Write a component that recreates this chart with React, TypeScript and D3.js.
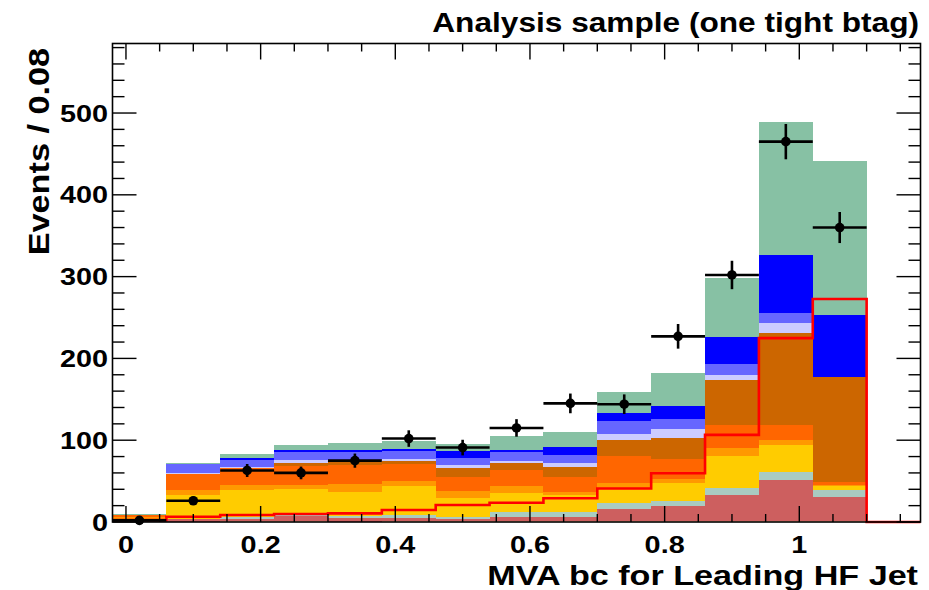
import React from 'react';
import * as d3 from 'd3';

// ---- data ----
const binCenters = [0.02, 0.10, 0.18, 0.26, 0.34, 0.42, 0.50, 0.58, 0.66, 0.74, 0.82, 0.90, 0.98, 1.06, 1.14];
const binWidth = 0.08;

const peach      = [0.3, 0.5, 0.7, 1, 0.5, 1, 1, 1, 0.7, 1, 1, 1, 1, 1, 0];
const indianred  = [1.5, 3, 3.3, 6, 4, 3.5, 2.3, 5.5, 5, 15, 19, 32, 50, 30, 0];
const tealgrey   = [0.3, 0.5, 2, 3, 2.5, 4.5, 3.2, 6, 7, 7, 6, 8.2, 10.5, 8, 0];
const gold       = [1.5, 29, 33, 30, 30, 35, 22.5, 23.5, 20.4, 18.3, 22, 39.6, 32.6, 5, 0];
const orange     = [2, 6, 6, 5, 9.5, 6, 9.3, 7.5, 4.1, 6.2, 4, 9.4, 6.2, 1.5, 0];
const orangered  = [3, 19.4, 21, 23.5, 23.5, 20.5, 17.1, 20.5, 18.3, 32.6, 24.5, 28.5, 18.3, 3.5, 0];
const brown      = [0.5, 0.5, 0.5, 3.5, 3, 4, 10.3, 8, 12.3, 20.4, 26.6, 54.3, 112.3, 127.7, 0];
const lavender   = [0, 1, 1.2, 4, 2.5, 2.5, 4.1, 2, 4.1, 7.3, 10, 7, 13, 0.3, 0];
const mediumblue = [0, 10.7, 8.3, 10, 10, 9.5, 8.2, 11, 10.2, 15.1, 12.3, 13.4, 11.4, 0.3, 0];
const blue       = [0, 0, 2, 2, 3, 2.5, 9.3, 3, 9.4, 10.2, 16.3, 32.6, 71.4, 76, 0];
const green      = [0.3, 1, 5, 6, 8, 9.5, 7.7, 17, 19, 25.7, 40, 72.3, 161.9, 187.6, 0];

const signal = [2.4, 6.5, 8.6, 9.8, 10.6, 14.7, 20.8, 23.6, 29, 41, 59.6, 106.5, 224.8, 272.6, 0];
const dataCounts = [2, 26, 63, 60, 75, 102, 91, 115, 145, 144, 227, 302, 465, 360, 0];

const layerKeys = ['peach', 'indianred', 'tealgrey', 'gold', 'orange', 'orangered', 'brown', 'lavender', 'mediumblue', 'blue', 'green'];
const layerValues: Record<string, number[]> = { peach, indianred, tealgrey, gold, orange, orangered, brown, lavender, mediumblue, blue, green };
const layerColors: Record<string, string> = {
  peach: '#f6c79a', indianred: '#cd5f5f', tealgrey: '#a9cbc1', gold: '#ffcc00', orange: '#ff9900',
  orangered: '#ff6600', brown: '#cc6600', lavender: '#ccccff', mediumblue: '#6666ff', blue: '#0000ff', green: '#87c1a4',
};

const xTickLabels = [0, 0.2, 0.4, 0.6, 0.8, 1];
const yTickLabels = [0, 100, 200, 300, 400, 500];

const titleText = 'Analysis sample (one tight btag)';
const xTitle = 'MVA bc for Leading HF Jet';
const yTitle = 'Events / 0.08';

// ---- layout ----
const W = 929, H = 590;
const L = 112.5, R = 920.5, T = 43.5, B = 522;
const FONT = "'Liberation Sans', Arial, Helvetica, sans-serif";

export default function App() {
  const x = d3.scaleLinear().domain([-0.02, 1.18]).range([L, R]);
  const y = d3.scaleLinear().domain([0, 585]).range([B, T]);

  const rows = binCenters.map((c, i) => {
    const r: any = { c };
    layerKeys.forEach(k => { r[k] = layerValues[k][i]; });
    return r;
  });
  const stacked = d3.stack<any>().keys(layerKeys)(rows);

  const edges = binCenters.map(c => c - binWidth / 2);
  const sigPts: [number, number][] = edges.map((e, i) => [e, signal[i]]);
  sigPts.push([binCenters[binCenters.length - 1] + binWidth / 2, signal[signal.length - 1]]);
  const sigLine = d3.line<[number, number]>().x(d => x(d[0])).y(d => y(d[1])).curve(d3.curveStepAfter);

  const yMinor = d3.range(0, 585, 20);
  const xMinor = d3.range(0, 1.18, 0.05).map(v => Math.round(v * 100) / 100);
  const isMajorX = (v: number) => Math.abs(v / 0.2 - Math.round(v / 0.2)) < 1e-6;

  const yMajLen = 24, yMinLen = 12, xMajLen = 16, xMinLen = 8;

  return (
    <svg width={W} height={H} style={{ display: 'block', position: 'absolute', left: 0, top: 0 }}>
      <rect x={0} y={0} width={W} height={H} fill="#fff" />
      {stacked.map(layer => (
        <g key={layer.key} fill={layerColors[layer.key]}>
          {layer.map((d, i) => {
            const h = y(d[0]) - y(d[1]);
            if (h <= 0) return null;
            return (
              <rect key={i} x={x(binCenters[i] - binWidth / 2)} y={y(d[1])}
                width={x(binCenters[i] + binWidth / 2) - x(binCenters[i] - binWidth / 2)} height={h}
                shapeRendering="crispEdges" />
            );
          })}
        </g>
      ))}
      <path d={sigLine(sigPts) || ''} fill="none" stroke="#ff0000" strokeWidth={2.6} />
      {dataCounts.map((n, i) => {
        if (n <= 0) return null;
        const e = Math.sqrt(n);
        const cx = x(binCenters[i]);
        return (
          <g key={i} stroke="#000" strokeWidth={2.6}>
            <line x1={x(binCenters[i] - binWidth / 2)} x2={x(binCenters[i] + binWidth / 2)} y1={y(n)} y2={y(n)} />
            <line x1={cx} x2={cx} y1={y(Math.max(0, n - e))} y2={y(n + e)} />
            <circle cx={cx} cy={y(n)} r={4.8} fill="#000" stroke="none" />
          </g>
        );
      })}
      {/* frame */}
      <rect x={L} y={T} width={R - L} height={B - T} fill="none" stroke="#000" strokeWidth={1.6} />
      {/* ticks */}
      <g stroke="#000" strokeWidth={1.4}>
        {yMinor.map(v => {
          const len = v % 100 === 0 ? yMajLen : yMinLen;
          return (
            <g key={v}>
              <line x1={L} x2={L + len} y1={y(v)} y2={y(v)} />
              <line x1={R} x2={R - len} y1={y(v)} y2={y(v)} />
            </g>
          );
        })}
        {xMinor.map(v => {
          const len = isMajorX(v) ? xMajLen : xMinLen;
          return (
            <g key={v}>
              <line x1={x(v)} x2={x(v)} y1={B} y2={B - len} />
              <line x1={x(v)} x2={x(v)} y1={T} y2={T + len} />
            </g>
          );
        })}
      </g>
      <g fontFamily={FONT} fontWeight="bold" fill="#000">
        {yTickLabels.map(v => (
          <text key={v} transform={`translate(108,${y(v) + 8.6}) scale(1.2,1)`} textAnchor="end" fontSize={24}>{v}</text>
        ))}
        {xTickLabels.map(v => (
          <text key={v} transform={`translate(${x(v)},553) scale(1.2,1)`} textAnchor="middle" fontSize={24}>{String(v)}</text>
        ))}
        <text transform="translate(919,32) scale(1.13,1)" textAnchor="end" fontSize={28}>{titleText}</text>
        <text transform="translate(918,585) scale(1.22,1)" textAnchor="end" fontSize={28}>{xTitle}</text>
        <text transform="translate(49,48) rotate(-90) scale(1.18,1)" textAnchor="end" fontSize={29}>{yTitle}</text>
      </g>
    </svg>
  );
}
